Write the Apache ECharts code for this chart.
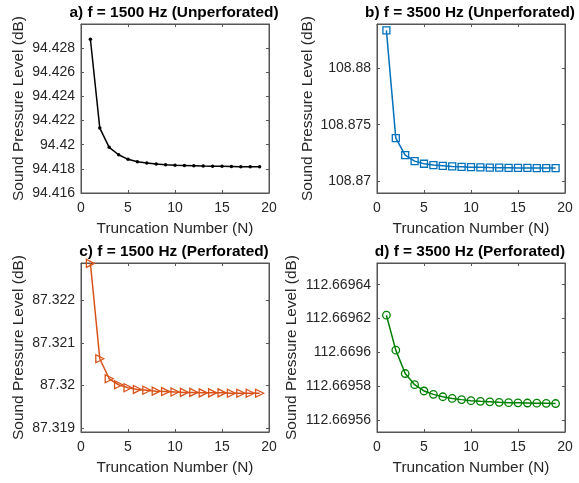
<!DOCTYPE html>
<html>
<head>
<meta charset="utf-8">
<script src="https://cdn.jsdelivr.net/npm/echarts@6/dist/echarts.min.js"></script>
<style>
html,body{margin:0;padding:0;background:#fff;}
#chart{width:579px;height:483px;}
</style>
</head>
<body>
<div id="chart"></div>
<script>
// ---- data ----
const truncationN = [1,2,3,4,5,6,7,8,9,10,11,12,13,14,15,16,17,18,19];
const splA = [94.42874,94.42138,94.41978,94.41917,94.41879,94.41859,94.41848,94.4184,94.41834,94.4183,94.41828,94.41826,94.41823,94.41822,94.41821,94.4182,94.41818,94.41818,94.41817];
const splB = [108.88332,108.87382,108.87232,108.87179,108.87156,108.87144,108.87138,108.87132,108.87129,108.87126,108.87124,108.87122,108.87121,108.8712,108.87119,108.87119,108.87118,108.87118,108.87118];
const splC = [87.32287,87.32063,87.32016,87.32002,87.31995,87.31991,87.31989,87.31987,87.31986,87.31985,87.31984,87.31984,87.31983,87.31983,87.31983,87.31982,87.31982,87.31982,87.31982];
const splD = [112.669622,112.6696014,112.6695876,112.669581,112.6695773,112.6695753,112.6695739,112.6695729,112.6695722,112.6695716,112.6695712,112.6695709,112.6695706,112.6695704,112.6695703,112.6695702,112.6695701,112.66957,112.6695699];
const titles = ['a) f = 1500 Hz (Unperforated)','b) f = 3500 Hz (Unperforated)','c) f = 1500 Hz (Perforated)','d) f = 3500 Hz (Perforated)'];
const xTitle = 'Truncation Number (N)';
const yTitle = 'Sound Pressure Level (dB)';
const xRange = [0, 20, 5];
const yRanges = [
  {min:94.416, max:94.43, interval:0.002, showMin:true},
  {min:108.86898, max:108.88388, interval:0.005, showMin:false},
  {min:87.31891, max:87.32288, interval:0.001, showMin:false},
  {min:112.6695531, max:112.6696528, interval:0.00002, showMin:false}
];

// ---- layout / style ----
const grids = [
  {left:81, top:24, width:188, height:169},
  {left:377, top:24, width:188, height:169},
  {left:81, top:263, width:188, height:169},
  {left:377, top:263, width:188, height:169}
];
const nameGaps = [55, 62, 55, 78];
const colors = ['#000000','#0072BD','#D95319','#008000'];
const symbols = ['circle','rect','triangle','circle'];
const symbolSizes = [3.5, 7, 8, 7.5];
const symbolRot = [0, 0, -90, 0];
const axisCol = '#262626';
const boxCol = '#555555';
const FONT = 'Liberation Sans, Arial, Helvetica, sans-serif';

const dataSets = [splA, splB, splC, splD];

const option = {
  animation:false,
  backgroundColor:'#ffffff',
  title: titles.map((t,i)=>({
    text:t,
    left: grids[i].left + grids[i].width/2 - 1,
    top: grids[i].top - 19,
    textAlign:'center',
    padding:0,
    textStyle:{fontFamily:FONT,fontSize:15.4,fontWeight:'bold',color:'#000'}
  })),
  grid: grids.map(g=>Object.assign({show:true,borderColor:boxCol,borderWidth:1,backgroundColor:'transparent',containLabel:false},g)),
  xAxis: [],
  yAxis: [],
  series: []
};

for (let i=0;i<4;i++){
  option.xAxis.push({
    type:'value', gridIndex:i, min:xRange[0], max:xRange[1], interval:xRange[2],
    name:xTitle, nameLocation:'middle', nameGap:28,
    nameTextStyle:{fontFamily:FONT,fontSize:15.4,color:axisCol},
    axisLine:{show:true,onZero:false,lineStyle:{color:boxCol,width:1}},
    axisTick:{show:true,inside:true,length:3,lineStyle:{color:boxCol}},
    axisLabel:{fontFamily:FONT,fontSize:14,color:axisCol,margin:8},
    splitLine:{show:false}
  });
  option.xAxis.push({
    type:'value', gridIndex:i, position:'top', min:xRange[0], max:xRange[1], interval:xRange[2],
    axisLine:{show:true,onZero:false,lineStyle:{color:boxCol,width:1}},
    axisTick:{show:true,inside:true,length:3,lineStyle:{color:boxCol}},
    axisLabel:{show:false}, splitLine:{show:false}
  });
  const yr = yRanges[i];
  const yCommon = {
    type:'value', gridIndex:i, min:yr.min, max:yr.max,
    minInterval:yr.interval, maxInterval:yr.interval, splitNumber:Math.round((yr.max-yr.min)/yr.interval),
    scale:true, splitLine:{show:false}
  };
  option.yAxis.push(Object.assign({}, yCommon, {
    name:yTitle, nameLocation:'middle', nameGap:nameGaps[i],
    nameTextStyle:{fontFamily:FONT,fontSize:15.4,color:axisCol},
    axisLine:{show:true,onZero:false,lineStyle:{color:boxCol,width:1}},
    axisTick:{show:true,inside:true,length:3,lineStyle:{color:boxCol}},
    axisLabel:{fontFamily:FONT,fontSize:14,color:axisCol,margin:6,showMinLabel:yr.showMin,showMaxLabel:false}
  }));
  option.yAxis.push(Object.assign({}, yCommon, {
    position:'right',
    axisLine:{show:true,onZero:false,lineStyle:{color:boxCol,width:1}},
    axisTick:{show:true,inside:true,length:3,lineStyle:{color:boxCol}},
    axisLabel:{show:false}
  }));
  option.series.push({
    type:'line', xAxisIndex:i*2, yAxisIndex:i*2,
    data: truncationN.map((x,k)=>[x, dataSets[i][k]]),
    symbol:symbols[i], symbolSize:symbolSizes[i], symbolRotate:symbolRot[i], showAllSymbol:true,
    lineStyle:{color:colors[i],width:1.5},
    itemStyle: i===0 ? {color:colors[i],borderColor:colors[i],borderWidth:0}
                     : {color:'rgba(0,0,0,0)',borderColor:colors[i],borderWidth:1.3},
    emphasis:{disabled:true},
    z:3
  });
}

const chart = echarts.init(document.getElementById('chart'), null, {renderer:'canvas'});
chart.setOption(option);
</script>
</body>
</html>
